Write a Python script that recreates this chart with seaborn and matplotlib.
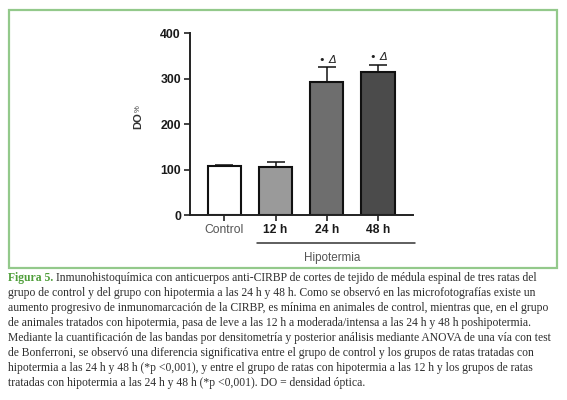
import matplotlib
matplotlib.use("Agg")
import matplotlib.pyplot as plt
import matplotlib.patches as mpatches
import seaborn as sns
import pandas as pd

# Data: optical density (%) per group, mean and upper SEM
groups = ["Control", "12 h", "24 h", "48 h"]
do_mean = [107, 106, 293, 315]
do_sem = [3, 11, 32, 16]
bar_colors = ["#ffffff", "#9a9a9a", "#6e6e6e", "#4b4b4b"]
signif = ["", "", "• Δ", "• Δ"]
y_ticks = [0, 100, 200, 300, 400]

caption_head = "Figura 5."
caption_lines = [
    "Inmunohistoquímica con anticuerpos anti-CIRBP de cortes de tejido de médula espinal de tres ratas del",
    "grupo de control y del grupo con hipotermia a las 24 h y 48 h. Como se observó en las microfotografías existe un",
    "aumento progresivo de inmunomarcación de la CIRBP, es mínima en animales de control, mientras que, en el grupo",
    "de animales tratados con hipotermia, pasa de leve a las 12 h a moderada/intensa a las 24 h y 48 h poshipotermia.",
    "Mediante la cuantificación de las bandas por densitometría y posterior análisis mediante ANOVA de una vía con test",
    "de Bonferroni, se observó una diferencia significativa entre el grupo de control y los grupos de ratas tratadas con",
    "hipotermia a las 24 h y 48 h (*p <0,001), y entre el grupo de ratas con hipotermia a las 12 h y los grupos de ratas",
    "tratadas con hipotermia a las 24 h y 48 h (*p <0,001). DO = densidad óptica.",
]

sns.set_style("ticks")
plt.rcParams["font.family"] = ["Liberation Sans", "DejaVu Sans"]

W, H = 567, 400
fig = plt.figure(figsize=(W / 100, H / 100), dpi=100)
fig.patch.set_facecolor("white")

def fx(px):
    return px / W

def fy(py):
    return 1 - py / H

# green frame around the chart panel
frame = mpatches.Rectangle((fx(8.5), fy(268)), fx(557) - fx(8.5), fy(10) - fy(268),
                           transform=fig.transFigure, fill=False,
                           edgecolor="#93c98b", linewidth=1.6)
fig.add_artist(frame)

ax = fig.add_axes([fx(190), fy(215), fx(413) - fx(190), fy(33.3) - fy(215)])
df = pd.DataFrame({"grupo": groups, "do": do_mean})
sns.barplot(data=df, x="grupo", y="do", hue="grupo", palette=bar_colors,
            legend=False, errorbar=None, width=0.655, edgecolor="#111111",
            linewidth=1.5, ax=ax, zorder=2)

xs = list(range(len(groups)))
ax.errorbar(xs, do_mean, yerr=[[0] * len(do_sem), do_sem], fmt="none",
            ecolor="#111111", elinewidth=1.1, capsize=6.8, capthick=1.1, zorder=3)

for x, m, s, lab in zip(xs, do_mean, do_sem, signif):
    if lab:
        ax.annotate(lab, xy=(x, m + s), xytext=(1, 2), textcoords="offset points",
                    ha="center", va="bottom", fontsize=8, color="#222222",
                    family=["DejaVu Sans"], fontstyle="italic")

ax.set_xlim(-0.67, 3.685)
ax.set_ylim(0, 400)
ax.set_yticks(y_ticks)
ax.set_yticklabels([str(v) for v in y_ticks], fontsize=8.8, fontweight="bold",
                   color="#1a1a1a")
ax.set_xticks(xs)
ax.set_xticklabels(groups, fontsize=8.7)
for i, t in enumerate(ax.get_xticklabels()):
    if i == 0:
        t.set_color("#555555")
    else:
        t.set_fontweight("bold")
        t.set_color("#1a1a1a")
ax.set_xlabel("")
ax.set_ylabel("")
ax.tick_params(axis="both", length=4, width=1.2, pad=2.5, color="#222222")
sns.despine(ax=ax)
for side in ("left", "bottom"):
    ax.spines[side].set_linewidth(1.4)
    ax.spines[side].set_color("#222222")

# group bracket under the hypothermia bars
ax.plot([0.64, 3.72], [-0.154, -0.154], color="#333333", linewidth=1.1,
        transform=ax.get_xaxis_transform(), clip_on=False)
ax.text(2.1, -0.235, "Hipotermia", transform=ax.get_xaxis_transform(),
        ha="center", va="center", fontsize=8.4, color="#555555")

# y-axis title
fig.text(fx(138), fy(120.5), "DO", rotation=90, ha="center", va="center",
         fontsize=8, fontweight="bold", color="#333333")
fig.text(fx(138), fy(108.5), "%", rotation=90, ha="center", va="center",
         fontsize=5.5, color="#333333")

# caption
serif = ["Liberation Serif", "DejaVu Serif"]
cap_size = 8.4
cap_color = "#2e2e2e"
y0, dy = 281.5, 14.95
head = fig.text(fx(8), fy(y0), caption_head, ha="left", va="baseline",
                fontsize=cap_size, family=serif, fontweight="bold", color="#4f9e3a")
fig.canvas.draw()
r = fig.canvas.get_renderer()
bb = head.get_window_extent(r)
fig.text(bb.x1 / W + fx(3), fy(y0), caption_lines[0], ha="left", va="baseline",
         fontsize=cap_size, family=serif, color=cap_color)
for i, line in enumerate(caption_lines[1:], start=1):
    fig.text(fx(8), fy(y0 + i * dy), line, ha="left", va="baseline",
             fontsize=cap_size, family=serif, color=cap_color)

fig.savefig("out.png", dpi=100, facecolor="white")
